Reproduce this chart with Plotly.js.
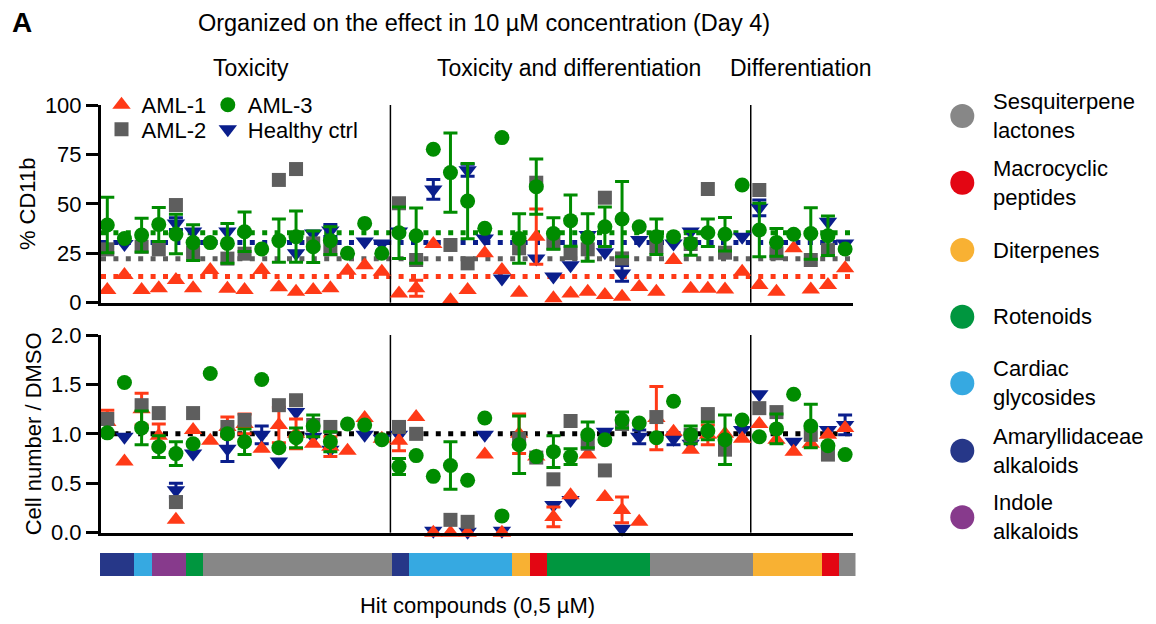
<!DOCTYPE html>
<html><head><meta charset="utf-8">
<script src="https://cdn.plot.ly/plotly-3.0.1.min.js"></script>
<style>html,body{margin:0;padding:0;background:#fff}#chart{width:1156px;height:624px}</style>
</head><body><div id="chart"></div>
<script>
// ---------- DATA ----------
const compounds = [1,2,3,4,5,6,7,8,9,10,11,12,13,14,15,16,17,18,19,20,21,22,23,24,25,26,27,28,29,30,31,32,33,34,35,36,37,38,39,40,41,42,43,44];

const classNames = ['Sesquiterpene lactones','Macrocyclic peptides','Diterpenes','Rotenoids','Cardiac glycosides','Amaryllidaceae alkaloids','Indole alkaloids'];
const classCodes = ['S','M','D','R','C','A','I'];
const compoundClass = ['A','A','C','I','I','R','S','S','S','S','S','S','S','S','S','S','S',
  'A','C','C','C','C','C','C','D','M','R','R','R','R','R','R','S','S','S','S','S','S',
  'D','D','D','D','M','S'];

const sectionNames = ['Toxicity','Toxicity and differentiation','Differentiation'];
const sectionSizes = [17, 21, 6];

const seriesNames = ['AML-1','AML-2','AML-3','Healthy ctrl'];

// % CD11b (10 µM, day 4); null = point not visible in the figure
const cd11b_AML1 = [6.4,14,6.4,7.3,11.5,7.3,16.5,7,6.4,16.5,7.8,5.6,6.4,7.3,16.2,19,15.7,
  4.7,7.3,29.7,1.3,6.4,25,16.5,5,33.4,2.2,4.7,5.6,3.9,3,8,5.6,21.6,7,7,6.7,15.7,
  9,5.6,27.5,6.7,9,17.4];
const cd11b_AML1_err = [null,null,null,null,null,null,null,null,null,null,null,null,null,null,null,null,null,
  null,4,null,null,null,null,null,null,14,null,null,null,null,null,null,null,null,null,null,null,null,
  null,null,null,null,null,null];
const cd11b_AML2 = [27,null,28.3,27,49.4,25.3,null,22.3,24.8,null,62.1,67.6,30,27,null,null,null,
  50.3,21.6,null,29.2,19.9,null,null,27.5,60.7,30,25,27,53.1,22.4,null,28.3,null,29.7,57.5,25.3,null,
  57,25,null,21.6,26.6,null];
const cd11b_AML3 = [39.3,32.5,34.2,39.6,34.7,30.4,30.4,30,35.9,27.2,31.4,33.4,28.3,31.4,25,40.1,25,
  35.4,33.9,77.6,65.8,51.4,37.6,83.5,32.5,58.7,35,41.5,33,38.4,42.3,38.4,33.4,33.4,30,35.4,34.6,59.5,
  36.8,30.5,34.6,35,33.9,27.2];
const cd11b_AML3_err = [14,null,8.5,8.6,10,9,null,10,10,null,11,13,8,7,null,null,null,
  13,14,null,20,19,null,null,12.5,14,8,13,12,10,19,null,9,null,6,7,8.5,null,
  13.5,7,null,13,10,null];
const cd11b_HC = [null,29.7,null,null,40,36,null,36,null,null,null,25,35,36.5,null,31,30,
  36,null,57.3,null,67,32.5,12.3,null,22.4,13.2,19,34.2,25.5,14.8,31.7,null,30,36,null,null,33.4,
  48,null,null,null,41,30];
const cd11b_HC_err = [null,null,null,null,3,null,null,null,null,null,null,null,null,3,null,null,null,
  null,null,5,null,3,null,null,null,null,null,null,null,null,4,null,null,null,null,null,null,null,
  4,null,null,null,null,null];
// DMSO reference levels (% CD11b), order as seriesNames
const cd11b_DMSO = [13.2, 22.2, 35.4, 30.4];

// Cell number / DMSO (0,5 µM)
const cell_AML1 = [1.12,0.72,1.25,0.98,0.13,1.04,0.93,1.07,1.1,0.85,1.09,1.0,0.9,0.87,0.83,1.16,0.95,
  0.93,1.17,0.0,0.0,0.0,0.79,0.0,1.0,0.77,0.16,0.38,0.79,0.36,0.23,0.11,1.16,1.02,0.84,0.99,1.0,0.95,
  1.1,0.94,0.82,0.9,0.99,1.06];
const cell_AML1_err = [0.12,null,0.16,0.12,null,null,null,0.1,0.1,null,0.18,0.15,null,0.1,null,null,null,
  0.1,null,null,null,null,null,null,0.2,null,0.1,null,null,null,0.13,null,0.32,null,null,0.1,null,null,
  null,null,null,null,null,null];
const cell_AML2 = [1.15,null,1.29,1.21,0.31,1.21,null,1.07,1.14,null,1.29,1.34,1.09,1.07,null,null,null,
  1.07,1.0,null,0.13,0.11,null,null,0.95,0.76,0.54,1.13,0.9,0.63,1.1,null,1.17,null,0.99,1.2,0.84,null,
  1.26,1.22,null,0.99,0.79,null];
const cell_AML3 = [1.01,1.52,1.06,0.87,0.8,0.9,1.61,1.0,0.92,1.55,0.86,0.96,1.08,0.92,1.1,1.09,0.94,
  0.67,0.78,0.57,0.68,0.53,1.16,0.17,0.89,0.77,0.82,0.77,0.99,0.94,1.14,1.11,0.96,1.33,0.99,1.03,0.94,1.14,
  0.97,1.05,1.4,1.08,0.88,0.79];
const cell_AML3_err = [null,null,0.17,0.11,0.12,null,null,null,0.13,null,null,0.1,0.11,0.1,null,null,null,
  0.08,null,null,0.24,null,null,null,0.29,null,0.16,0.08,0.13,null,0.08,null,null,null,0.09,0.09,0.25,null,
  null,0.15,null,0.22,null,null];
const cell_HC = [null,0.97,null,null,0.43,0.8,null,0.85,null,0.99,0.72,1.22,0.97,0.84,null,0.99,0.95,
  0.99,null,0.02,null,0.01,0.99,0.02,null,null,0.28,0.33,null,1.02,0.04,0.97,null,0.95,0.9,null,null,1.04,
  1.4,null,0.92,null,1.04,1.09];
const cell_HC_err = [null,null,null,null,0.07,null,null,0.13,null,0.09,null,null,null,null,null,null,null,
  null,null,null,null,null,null,null,null,null,null,null,null,null,null,0.07,null,0.06,null,null,null,null,
  null,null,null,null,null,0.1];
const cell_DMSO = 1.0;

// ---------- STYLE ----------
const FONT = 'Liberation Sans, Arial, Helvetica, sans-serif';
const seriesColor = {'AML-1':'#FF3A17','AML-2':'#5E5E5E','AML-3':'#008C00','Healthy ctrl':'#0A1E8C'};
const seriesSymbol = {'AML-1':'triangle-up','AML-2':'square','AML-3':'circle','Healthy ctrl':'triangle-down'};
const seriesSize = {'AML-1':16,'AML-2':14,'AML-3':15,'Healthy ctrl':16};
const seriesLegend = {'AML-1':'legend','AML-3':'legend2','AML-2':'legend3','Healthy ctrl':'legend4'};
const classColor = {S:'#878787',M:'#E30613',D:'#F8B133',R:'#00963F',C:'#36A9E1',A:'#263788',I:'#873A8C'};
const W = 1156, H = 624;
const px = x => x / W, py = y => 1 - y / H;

function errArr(a){ return a ? a.map(v => (v === null ? NaN : v)) : null; }
function tr(name, vals, errs, xa, ya, showlegend){
  const t = {
    type:'scatter', mode:'markers', name:name, x:compounds, y:vals,
    xaxis:xa, yaxis:ya, cliponaxis:false,
    marker:{symbol:seriesSymbol[name], size:seriesSize[name], color:seriesColor[name], line:{width:0}},
    showlegend:showlegend, legend:seriesLegend[name], hoverinfo:'x+y'
  };
  if (errs) t.error_y = {type:'data', array:errArr(errs), symmetric:true, color:seriesColor[name], thickness:3, width:7};
  return t;
}

const data = [
  // top panel (drawing order: healthy, AML-1, AML-2, AML-3)
  tr('Healthy ctrl', cd11b_HC, cd11b_HC_err, 'x','y', true),
  tr('AML-1', cd11b_AML1, cd11b_AML1_err, 'x','y', true),
  tr('AML-2', cd11b_AML2, null, 'x','y', true),
  tr('AML-3', cd11b_AML3, cd11b_AML3_err, 'x','y', true),
  // bottom panel
  tr('Healthy ctrl', cell_HC, cell_HC_err, 'x2','y2', false),
  tr('AML-1', cell_AML1, cell_AML1_err, 'x2','y2', false),
  tr('AML-2', cell_AML2, null, 'x2','y2', false),
  tr('AML-3', cell_AML3, cell_AML3_err, 'x2','y2', false),
  // compound class strip
  {type:'bar', x:compounds, y:compoundClass.map(() => 1), width:1, xaxis:'x3', yaxis:'y3',
   marker:{color:compoundClass.map(c => classColor[c]), line:{width:0}}, showlegend:false, hoverinfo:'skip'}
];

// ---------- LAYOUT ----------
const xDom = [px(101), px(853)];
const xRange = [0.633, 44.46];
const topDom = [py(302.7), py(105)];
const botDom = [py(532.7), py(335)];

const hiddenX = {domain:xDom, range:xRange, showticklabels:false, ticks:'', showgrid:false, zeroline:false,
  showline:true, linecolor:'#000', linewidth:3, fixedrange:true};
const yBase = {showgrid:false, zeroline:false, showline:true, linecolor:'#000', linewidth:3,
  ticks:'outside', ticklen:12, tickwidth:3, tickcolor:'#000', tickfont:{family:FONT, size:22, color:'#000'}, fixedrange:true};

const shapes = [];
// DMSO reference dotted lines
seriesNames.forEach((s, i) => shapes.push({type:'line', xref:'x domain', x0:0, x1:1, yref:'y', y0:cd11b_DMSO[i], y1:cd11b_DMSO[i],
  line:{color:seriesColor[s], width:5, dash:'5px,7.4px'}, layer:'below'}));
shapes.push({type:'line', xref:'x2 domain', x0:0, x1:1, yref:'y2', y0:cell_DMSO, y1:cell_DMSO,
  line:{color:'#000', width:5, dash:'5px,7.4px'}, layer:'below'});
// section dividers
let cum = 0;
sectionSizes.forEach((n, i) => {
  cum += n;
  if (i < sectionSizes.length - 1) {
    [['x','y domain'],['x2','y2 domain']].forEach(([xr, yr]) => shapes.push({type:'line', xref:xr, yref:yr,
      x0:cum + 0.5, x1:cum + 0.5, y0:0, y1:1, line:{color:'#000', width:1.5}, layer:'below'}));
  }
});

// class legend (right)
const legendY = [116, 182.7, 250, 316.7, 383.3, 450.7, 517.3];
const annotations = [];
classCodes.forEach((c, i) => {
  shapes.push({type:'circle', xref:'paper', yref:'paper', xsizemode:'pixel', ysizemode:'pixel',
    xanchor:px(962.3), yanchor:py(legendY[i]), x0:-12, x1:12, y0:-12, y1:12,
    fillcolor:classColor[c], line:{width:0}});
  annotations.push({xref:'paper', yref:'paper', x:px(991), y:py(legendY[i]), xanchor:'left', yanchor:'middle',
    align:'left', showarrow:false, text:classNames[i].replace(' ', '<br>'), font:{family:FONT, size:22, color:'#000'}});
});

// section labels
const sectionLabelX = [250.5, 569, 801];
sectionNames.forEach((s, i) => annotations.push({xref:'paper', yref:'paper', x:px(sectionLabelX[i]), y:py(68),
  xanchor:'center', yanchor:'middle', showarrow:false, text:s, font:{family:FONT, size:23, color:'#000'}}));
// panel letter
annotations.push({xref:'paper', yref:'paper', x:px(22), y:py(23), xanchor:'center', yanchor:'middle', showarrow:false,
  text:'<b>A</b>', font:{family:FONT, size:28, color:'#000'}});

const legendCommon = {orientation:'v', xanchor:'left', yanchor:'top', bgcolor:'rgba(0,0,0,0)', borderwidth:0,
  itemwidth:30, font:{family:FONT, size:22, color:'#000'}, itemclick:false, itemdoubleclick:false};

const layout = {
  width:W, height:H, margin:{l:0, r:0, t:0, b:0, autoexpand:false},
  paper_bgcolor:'#fff', plot_bgcolor:'rgba(0,0,0,0)',
  font:{family:FONT, size:22, color:'#000'},
  title:{text:'Organized on the effect in 10 µM concentration (Day 4)', x:px(484), xanchor:'center',
    y:py(23), yanchor:'middle', font:{family:FONT, size:23.5, color:'#000'}},
  xaxis:Object.assign({}, hiddenX, {anchor:'y'}),
  xaxis2:Object.assign({}, hiddenX, {anchor:'y2'}),
  xaxis3:{domain:[px(99.5), px(855.5)], range:[0.5, 44.5], anchor:'y3', showticklabels:false, ticks:'', showgrid:false,
    zeroline:false, showline:false, fixedrange:true,
    title:{text:'Hit compounds (0,5 µM)', standoff:21, font:{family:FONT, size:22, color:'#000'}}},
  yaxis:Object.assign({}, yBase, {domain:topDom, range:[0,100], tickvals:[0,25,50,75,100], anchor:'x',
    title:{text:'% CD11b', standoff:4, font:{family:FONT, size:22, color:'#000'}}}),
  yaxis2:Object.assign({}, yBase, {domain:botDom, range:[0,2], tickvals:[0,0.5,1,1.5,2], tickformat:'.1f', anchor:'x2',
    title:{text:'Cell number / DMSO', standoff:4, font:{family:FONT, size:22, color:'#000'}}}),
  yaxis3:{domain:[py(576), py(553)], range:[0,1], anchor:'x3', visible:false, fixedrange:true},
  yaxis4:Object.assign({}, yBase, {overlaying:'y', side:'right', anchor:'x', range:[0,100], tickvals:[0,25,50,75,100]}),
  yaxis5:Object.assign({}, yBase, {overlaying:'y2', side:'right', anchor:'x2', range:[0,2], tickvals:[0,0.5,1,1.5,2], tickformat:'.1f'}),
  legend:Object.assign({}, legendCommon, {x:px(101.5), y:py(84)}),
  legend2:Object.assign({}, legendCommon, {x:px(207.8), y:py(84)}),
  legend3:Object.assign({}, legendCommon, {x:px(101.5), y:py(108.5)}),
  legend4:Object.assign({}, legendCommon, {x:px(207.8), y:py(108.5)}),
  bargap:0,
  shapes:shapes,
  annotations:annotations
};

Plotly.newPlot('chart', data, layout, {displayModeBar:false, responsive:false});
</script>
</body></html>
